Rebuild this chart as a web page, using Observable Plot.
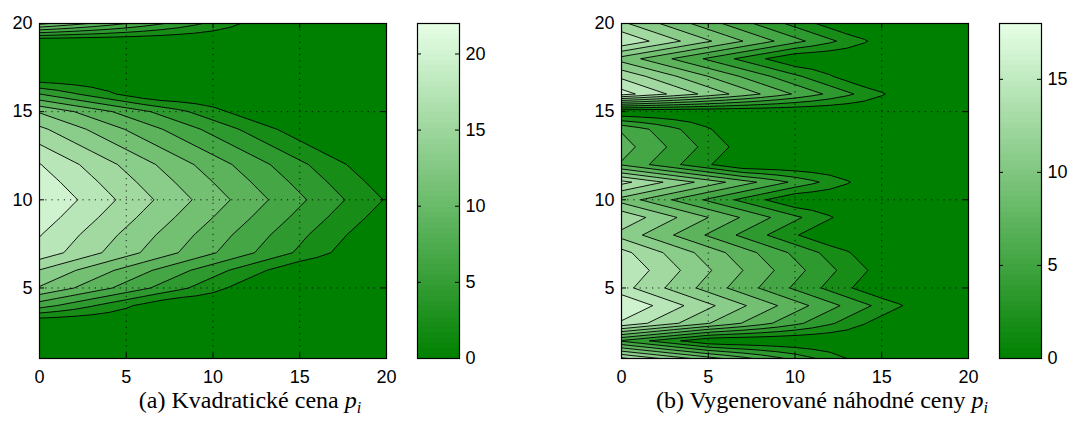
<!DOCTYPE html>
<html>
<head>
<meta charset="utf-8">
<script src="https://cdn.jsdelivr.net/npm/d3@7"></script>
<script src="https://cdn.jsdelivr.net/npm/@observablehq/plot@0.6"></script>
<style>
  body { margin: 0; background: #fff; }
  #fig { position: relative; width: 1073px; height: 434px; overflow: hidden; background: #fff; }
  .panel { position: absolute; top: 0; }
  .cap { position: absolute; top: 387px; font-family: "Liberation Serif", "DejaVu Serif", serif; font-size: 24px;
         white-space: nowrap; transform: translateX(-50%); color: #000; }
  .cap sub { font-size: 16px; vertical-align: -5px; line-height: 0; }
</style>
</head>
<body>
<div id="fig"></div>
<script>
// Horizontal grid (steps) and vertical grid (items i)
const steps = [0, 1, 2, 3, 4, 5, 6, 7, 8, 9, 10, 11, 12, 13, 14, 15, 16, 17, 18, 19, 20];
const items = [1, 2, 3, 4, 5, 6, 7, 8, 9, 10, 11, 12, 13, 14, 15, 16, 17, 18, 19, 20];

// Price p_i of each item (items 1..20)
const quadraticPrice = [0, 0, 0, 7.6, 13.0, 15.3, 19.0, 19.9, 21.0, 22.0,
                        21.0, 19.9, 17.9, 15.9, 13.0, 6.6, 0, 0, 0, 13.8];
const randomPrice    = [14.8, 5.2, 15.9, 18.0, 15.1, 16.0, 15.0, 12.0, 14.0, 10.1,
                        15.0, 7.0, 8.0, 7.0, 0, 17.0, 14.0, 10.1, 16.0, 13.0];

// Contour levels and colour bar ranges
const quadraticLevels = [0, 2.2, 4.4, 6.6, 8.8, 11, 13.2, 15.4, 17.6, 19.8];
const randomLevels    = [0, 1.8, 3.6, 5.4, 7.2, 9, 10.8, 12.6, 14.4, 16.2];
const quadraticMax = 22;
const randomMax = 18;

// Tick labels
const xTicks = [0, 5, 10, 15, 20];
const yTicks = [5, 10, 15, 20];
const innerTicks = [5, 10, 15];
const quadraticBarTicks = [0, 5, 10, 15, 20];
const randomBarTicks = [0, 5, 10, 15];

const dark = "rgb(0,128,0)";
const light = "rgb(230,255,230)";
const font = {fontFamily: "'Liberation Sans', Arial, Helvetica, sans-serif", fontSize: "18px",
              color: "black", background: "none", overflow: "visible"};

// Value left at step t: the price drops by one per step, never below zero
function surface(prices) {
  return prices.flatMap(p => steps.map(t => Math.max(0, p - t)));
}

function contourPanel(prices, levels, vmax, ml, mr) {
  const W = 400, H = 395, mt = 23, mb = 37;
  const fw = W - ml - mr, fh = H - mt - mb;
  return Plot.plot({
    width: W, height: H, marginLeft: ml, marginRight: mr, marginTop: mt, marginBottom: mb,
    style: font,
    x: {domain: [0, 20]},
    y: {domain: [1, 20]},
    color: {type: "linear", domain: [0, vmax], range: [dark, light], interpolate: "rgb"},
    marks: [
      Plot.frame({fill: dark}),
      Plot.contour(surface(prices), {
        width: steps.length, height: items.length,
        x1: steps[0] - 0.5, x2: steps[steps.length - 1] + 0.5,
        y1: items[0] - 0.5, y2: items[items.length - 1] + 0.5,
        fill: Plot.identity, thresholds: levels,
        stroke: "black", strokeWidth: 0.9, clip: true
      }),
      Plot.gridX(innerTicks, {stroke: "black", strokeOpacity: 0.85, strokeWidth: 1, strokeDasharray: "1.2,5"}),
      Plot.gridY(innerTicks, {stroke: "black", strokeOpacity: 0.85, strokeWidth: 1, strokeDasharray: "1.2,5"}),
      Plot.tickX(innerTicks, {x: d => d, insetTop: fh - 5, stroke: "black"}),
      Plot.tickX(innerTicks, {x: d => d, insetBottom: fh - 5, stroke: "black"}),
      Plot.tickY(innerTicks, {y: d => d, insetRight: fw - 5, stroke: "black"}),
      Plot.tickY(innerTicks, {y: d => d, insetLeft: fw - 5, stroke: "black"}),
      Plot.frame({stroke: "black", strokeWidth: 1.2}),
      Plot.axisX(xTicks, {tickSize: 0, tickPadding: 12, label: null}),
      Plot.axisY(yTicks, {tickSize: 0, tickPadding: 7, label: null})
    ]
  });
}

function colorbarPanel(vmax, ticks, W, ml, mr) {
  const H = 395, mt = 23, mb = 37;
  const fw = W - ml - mr;
  return Plot.plot({
    width: W, height: H, marginLeft: ml, marginRight: mr, marginTop: mt, marginBottom: mb,
    style: font,
    x: {domain: [0, 1], axis: null},
    y: {domain: [0, vmax]},
    color: {type: "linear", domain: [0, vmax], range: [dark, light], interpolate: "rgb"},
    marks: [
      Plot.raster({x1: 0, x2: 1, y1: 0, y2: vmax, width: 1, height: 64, fill: (x, y) => y, imageRendering: "pixelated"}),
      Plot.tickY(ticks, {y: d => d, insetRight: fw - 4, stroke: "black"}),
      Plot.tickY(ticks, {y: d => d, insetLeft: fw - 4, stroke: "black"}),
      Plot.frame({stroke: "black", strokeWidth: 1.2}),
      Plot.axisY(ticks, {anchor: "right", tickSize: 0, tickPadding: 6, label: null})
    ]
  });
}

const fig = document.getElementById("fig");
function place(node, left) {
  node.classList.add("panel");
  node.style.left = left + "px";
  fig.appendChild(node);
}

place(contourPanel(quadraticPrice, quadraticLevels, quadraticMax, 39, 14), 0);
place(colorbarPanel(quadraticMax, quadraticBarTicks, 80, 17, 21), 400);
place(contourPanel(randomPrice, randomLevels, randomMax, 41, 12), 580);
place(colorbarPanel(randomMax, randomBarTicks, 93, 19, 32), 980);

function caption(html, center) {
  const d = document.createElement("div");
  d.className = "cap";
  d.style.left = center + "px";
  d.innerHTML = html;
  fig.appendChild(d);
}
caption("(a) Kvadratické cena <i>p</i><sub><i>i</i></sub>", 250);
caption("(b) Vygenerované náhodné ceny <i>p</i><sub><i>i</i></sub>", 822);
</script>
</body>
</html>
